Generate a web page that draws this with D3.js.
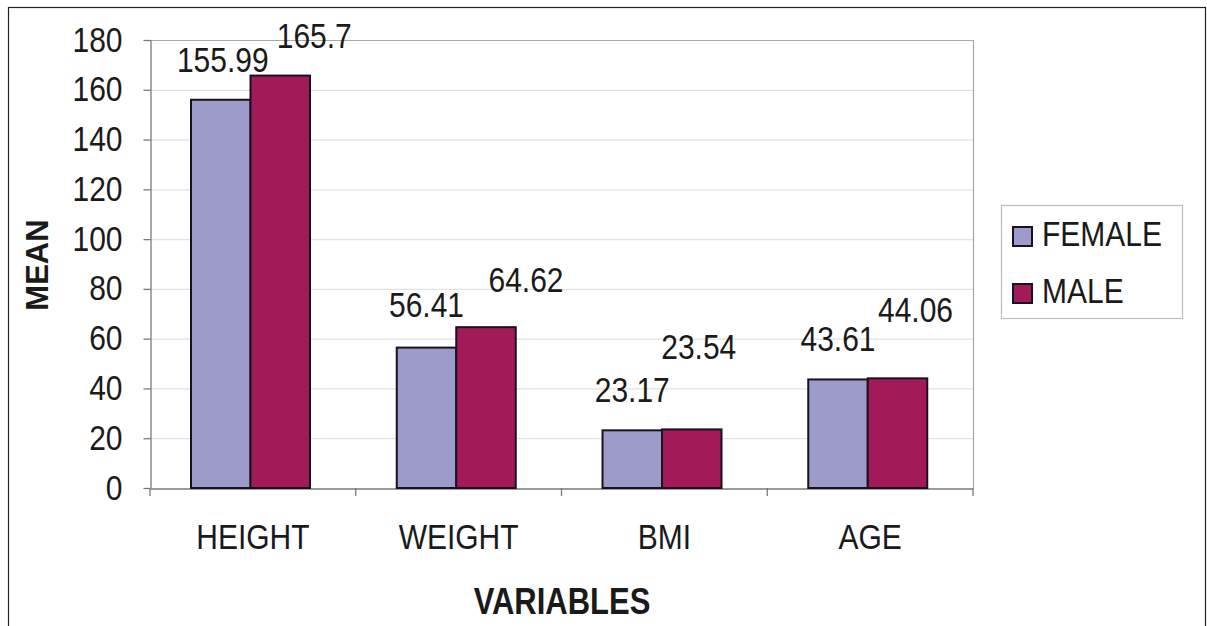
<!DOCTYPE html>
<html>
<head>
<meta charset="utf-8">
<script src="https://cdn.jsdelivr.net/npm/d3@7"></script>
<style>
  body { margin: 0; background: #fff; }
  text { font-family: 'Liberation Sans', Arial, sans-serif; fill: #1a1a1a; }
</style>
</head>
<body>
<div id="chart"></div>
<script>
// data
const categories = ['HEIGHT', 'WEIGHT', 'BMI', 'AGE'];
const seriesNames = ['FEMALE', 'MALE'];
const femaleMeans = [155.99, 56.41, 23.17, 43.61];
const maleMeans = [165.7, 64.62, 23.54, 44.06];
const yTicks = [0, 20, 40, 60, 80, 100, 120, 140, 160, 180];

const w = 1207;
const h = 626;
const colors = ['#9d9bc9', '#a21b58'];
const stretch = 1.17; // text in the picture is a bit taller than wide

// label nudges (px) as placed in the original chart, [series][category]
const labelShift = [
  [[2, -28], [0, -31], [0, -28], [0, -28]],
  [[34, -28], [40, -35], [7, -70], [18, -56]]
];

const plotLeft = 150, plotRight = 973, plotTop = 40, plotBottom = 488;

const svg = d3.select('#chart')
  .append('svg')
  .attr('width', w)
  .attr('height', h);

// outer frame
svg.append('rect')
  .attr('x', 8.5).attr('y', 7.5)
  .attr('width', 1197).attr('height', 640)
  .attr('fill', 'none')
  .attr('stroke', '#222')
  .attr('stroke-width', 1.2);

const x0 = d3.scaleBand()
  .domain(categories)
  .range([plotLeft, plotRight])
  .padding(0);

const x1 = d3.scaleBand()
  .domain(seriesNames)
  .range([41, 160])
  .padding(0);

const y = d3.scaleLinear()
  .domain([0, 180])
  .range([plotBottom, plotTop]);

// gridlines
svg.append('g')
  .selectAll('line')
  .data(yTicks.filter(t => t > 0))
  .enter()
  .append('line')
  .attr('x1', plotLeft).attr('x2', plotRight)
  .attr('y1', d => y(d) + 0.5).attr('y2', d => y(d) + 0.5)
  .attr('stroke', d => d === 180 ? '#a8a8a8' : '#e2e2e2')
  .attr('stroke-width', 1.2);

// right border of plot area
svg.append('line')
  .attr('x1', plotRight + 0.5).attr('x2', plotRight + 0.5)
  .attr('y1', plotTop).attr('y2', plotBottom)
  .attr('stroke', '#a8a8a8')
  .attr('stroke-width', 1.2);

// y axis
const yAxis = svg.append('g')
  .attr('transform', 'translate(' + (plotLeft + 0.5) + ',0)')
  .call(d3.axisLeft(y).tickValues(yTicks).tickSize(7).tickPadding(0).tickSizeOuter(0));
yAxis.select('.domain').attr('stroke', '#7a7a7a').attr('stroke-width', 1.3);
yAxis.selectAll('.tick line').attr('stroke', '#7a7a7a').attr('stroke-width', 1.3);
yAxis.selectAll('.tick text')
  .attr('x', -28)
  .attr('dy', null)
  .attr('y', 0)
  .style('font-size', '30px')
  .attr('fill', '#1a1a1a')
  .attr('font-family', null)
  .attr('transform', 'translate(0,11) scale(1,' + stretch + ')');

// x axis
const xAxis = svg.append('g')
  .attr('transform', 'translate(0,' + (plotBottom + 0.5) + ')')
  .call(d3.axisBottom(x0).tickSize(0).tickSizeOuter(0));
xAxis.select('.domain').attr('stroke', '#7a7a7a').attr('stroke-width', 1.3);
xAxis.selectAll('.tick text')
  .attr('y', 0).attr('dy', null)
  .style('font-size', '30px')
  .attr('fill', '#1a1a1a')
  .attr('font-family', null)
  .attr('transform', 'translate(0,60) scale(1,' + stretch + ')');

// category separators on x axis
svg.append('g')
  .selectAll('line')
  .data(categories.concat(['end']))
  .enter()
  .append('line')
  .attr('x1', (d, i) => i < categories.length ? x0(d) : plotRight)
  .attr('x2', (d, i) => i < categories.length ? x0(d) : plotRight)
  .attr('y1', plotBottom).attr('y2', plotBottom + 8)
  .attr('stroke', '#7a7a7a')
  .attr('stroke-width', 1.3);

// bars
const series = [femaleMeans, maleMeans];
series.forEach(function (vals, si) {
  svg.append('g')
    .selectAll('rect')
    .data(vals)
    .enter()
    .append('rect')
    .attr('x', (d, i) => x0(categories[i]) + x1(seriesNames[si]))
    .attr('y', d => y(d))
    .attr('width', x1.bandwidth())
    .attr('height', d => y(0) - y(d))
    .attr('fill', colors[si])
    .attr('stroke', '#1b1020')
    .attr('stroke-width', 2);

  svg.append('g')
    .selectAll('text')
    .data(vals)
    .enter()
    .append('text')
    .attr('text-anchor', 'middle')
    .style('font-size', '30px')
    .attr('transform', (d, i) => {
      const cx = x0(categories[i]) + x1(seriesNames[si]) + x1.bandwidth() / 2 + labelShift[si][i][0];
      const cy = y(d) + labelShift[si][i][1];
      return 'translate(' + cx + ',' + cy + ') scale(1,' + stretch + ')';
    })
    .text(d => d);
});

// axis titles
svg.append('text')
  .attr('text-anchor', 'middle')
  .attr('transform', 'translate(562,614) scale(1,' + stretch + ')')
  .style('font-size', '31px')
  .style('font-weight', 'bold')
  .text('VARIABLES');

svg.append('text')
  .attr('text-anchor', 'middle')
  .attr('transform', 'translate(48,265) rotate(-90)')
  .style('font-size', '31px')
  .style('font-weight', 'bold')
  .text('MEAN');

// legend
const legend = svg.append('g');
legend.append('rect')
  .attr('x', 1001.5).attr('y', 205.5)
  .attr('width', 181).attr('height', 113)
  .attr('fill', '#fff')
  .attr('stroke', '#bdbdbd')
  .attr('stroke-width', 1.2);

seriesNames.forEach(function (name, i) {
  legend.append('rect')
    .attr('x', 1013).attr('y', 227 + i * 57)
    .attr('width', 19).attr('height', 19)
    .attr('fill', colors[i])
    .attr('stroke', '#1b1020')
    .attr('stroke-width', 2);
  legend.append('text')
    .attr('transform', 'translate(1042,' + (246 + i * 57) + ') scale(1,' + stretch + ')')
    .style('font-size', '30px')
    .text(name);
});
</script>
</body>
</html>
